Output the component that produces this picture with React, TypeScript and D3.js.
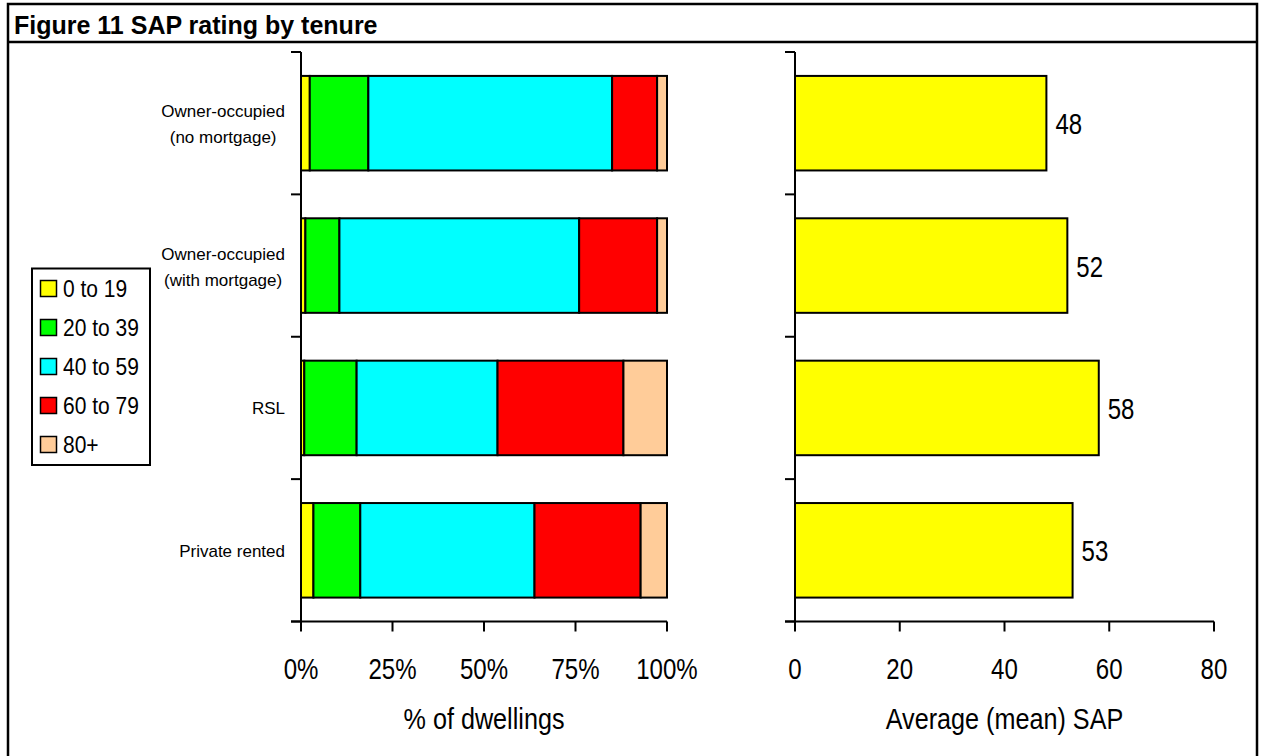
import React from "react";
import * as d3 from "d3";

// Tenure categories (label lines per category)
const categories = ["ooNoMortgage", "ooMortgage", "rsl", "privateRented"];
const categoryLines = [
  ["Owner-occupied", "(no mortgage)"],
  ["Owner-occupied", "(with mortgage)"],
  ["RSL"],
  ["Private rented"],
];

// SAP rating bands, % of dwellings in each tenure
const bandNames = ["0 to 19", "20 to 39", "40 to 59", "60 to 79", "80+"];
const bandColors = ["#FFFF00", "#00FF00", "#00FFFF", "#FF0000", "#FFCC99"];
const band0to19 = [2.4, 1.2, 0.9, 3.4];
const band20to39 = [16.0, 9.3, 14.3, 12.8];
const band40to59 = [66.6, 65.5, 38.5, 47.6];
const band60to79 = [12.3, 21.3, 34.4, 29.0];
const band80plus = [2.7, 2.7, 11.9, 7.2];

// Average (mean) SAP by tenure
const meanSap = [48, 52, 58, 53];

const pctTicks = [0, 25, 50, 75, 100];
const sapTicks = [0, 20, 40, 60, 80];

const FONT = "'Liberation Sans', Arial, Helvetica, sans-serif";

function T(props: {
  x: number;
  y: number;
  size: number;
  sx?: number;
  anchor?: string;
  weight?: string;
  children: React.ReactNode;
}) {
  const { x, y, size, sx = 1, anchor = "start", weight = "normal", children } = props;
  return (
    <text
      transform={`translate(${x},${y}) scale(${sx},1)`}
      fontSize={size}
      fontFamily={FONT}
      fontWeight={weight}
      textAnchor={anchor}
      fill="#000"
    >
      {children}
    </text>
  );
}

function measure(text: string, size: number): number {
  const c = document.createElement("canvas").getContext("2d");
  if (!c) return text.length * size * 0.5;
  c.font = `${size}px ${FONT}`;
  return c.measureText(text).width;
}

export default function App() {
  const W = 1261;
  const H = 756;

  const top = 52;
  const bottom = 621.5;

  const y = d3
    .scaleBand<string>()
    .domain(categories)
    .range([top, bottom])
    .paddingInner(0.336)
    .paddingOuter(0.168);

  const xPct = d3.scaleLinear().domain([0, 100]).range([301, 667]);
  const xSap = d3.scaleLinear().domain([0, 80]).range([795, 1214]);

  const rows = categories.map((c, i) => ({
    cat: c,
    b0: band0to19[i],
    b1: band20to39[i],
    b2: band40to59[i],
    b3: band60to79[i],
    b4: band80plus[i],
  }));
  const keys = ["b0", "b1", "b2", "b3", "b4"];
  const stacked = d3.stack<any>().keys(keys)(rows);

  const boundaries = categories.map((c) => y(c)! - (y.step() - y.bandwidth()) / 2);
  boundaries.push(bottom);

  const catSize = 17;
  const tickSize = 29;
  const tickSx = 0.83;

  return (
    <svg
      width={W}
      height={H}
      style={{ position: "absolute", left: 0, top: 0, background: "#fff" }}
    >
      <rect x={0} y={0} width={W} height={H} fill="#fff" />
      {/* frame and title */}
      <rect x={8} y={4} width={1249} height={H + 10} fill="none" stroke="#000" strokeWidth={2.5} />
      <line x1={8} x2={1257} y1={42} y2={42} stroke="#000" strokeWidth={2.5} />
      <T x={14} y={34} size={25} weight="bold">
        Figure 11 SAP rating by tenure
      </T>

      {/* left panel: stacked bars */}
      {stacked.map((layer, li) =>
        layer.map((d: any, i: number) => (
          <rect
            key={`${li}-${i}`}
            x={xPct(d[0])}
            y={y(categories[i])}
            width={Math.max(0, xPct(d[1]) - xPct(d[0]))}
            height={y.bandwidth()}
            fill={bandColors[li]}
            stroke="#000"
            strokeWidth={2}
          />
        ))
      )}

      {/* left axes */}
      <line x1={xPct(0)} x2={xPct(0)} y1={top} y2={bottom} stroke="#000" strokeWidth={2} />
      {boundaries.map((b, i) => (
        <line key={i} x1={xPct(0) - 10} x2={xPct(0)} y1={b} y2={b} stroke="#000" strokeWidth={2} />
      ))}
      <line x1={xPct(0) - 10} x2={xPct(100)} y1={bottom} y2={bottom} stroke="#000" strokeWidth={2} />
      {pctTicks.map((t) => (
        <g key={t}>
          <line x1={xPct(t)} x2={xPct(t)} y1={bottom} y2={bottom + 10} stroke="#000" strokeWidth={2} />
          <T x={xPct(t)} y={678.5} size={tickSize} sx={tickSx} anchor="middle">
            {`${t}%`}
          </T>
        </g>
      ))}
      <T x={(xPct(0) + xPct(100)) / 2} y={728.5} size={30} sx={0.84} anchor="middle">
        % of dwellings
      </T>

      {/* category labels */}
      {categoryLines.map((lines, i) => {
        const cy = y(categories[i])! + y.bandwidth() / 2;
        const right = xPct(0) - 16;
        if (lines.length === 1) {
          return (
            <T key={i} x={right} y={cy + 6.3} size={catSize} anchor="end">
              {lines[0]}
            </T>
          );
        }
        const maxW = Math.max(...lines.map((l) => measure(l, catSize)));
        const cx = right - maxW / 2;
        return (
          <g key={i}>
            <T x={cx} y={cy - 6} size={catSize} anchor="middle">
              {lines[0]}
            </T>
            <T x={cx} y={cy + 20} size={catSize} anchor="middle">
              {lines[1]}
            </T>
          </g>
        );
      })}

      {/* legend */}
      <rect x={32} y={268.5} width={118} height={196.5} fill="#fff" stroke="#000" strokeWidth={2} />
      {bandNames.map((n, i) => {
        const cy = 288.5 + i * 39;
        return (
          <g key={n}>
            <rect x={40.5} y={cy - 8} width={16} height={16} fill={bandColors[i]} stroke="#000" strokeWidth={1.5} />
            <T x={63} y={cy + 8.6} size={24} sx={0.875}>
              {n}
            </T>
          </g>
        );
      })}

      {/* right panel: mean SAP bars */}
      {meanSap.map((v, i) => (
        <g key={i}>
          <rect
            x={xSap(0)}
            y={y(categories[i])}
            width={xSap(v) - xSap(0)}
            height={y.bandwidth()}
            fill="#FFFF00"
            stroke="#000"
            strokeWidth={2}
          />
          <T x={xSap(v) + 9} y={y(categories[i])! + y.bandwidth() / 2 + 11} size={30} sx={0.8}>
            {String(v)}
          </T>
        </g>
      ))}
      <line x1={xSap(0)} x2={xSap(0)} y1={top} y2={bottom} stroke="#000" strokeWidth={2} />
      {boundaries.map((b, i) => (
        <line key={i} x1={xSap(0) - 10} x2={xSap(0)} y1={b} y2={b} stroke="#000" strokeWidth={2} />
      ))}
      <line x1={xSap(0) - 10} x2={xSap(80)} y1={bottom} y2={bottom} stroke="#000" strokeWidth={2} />
      {sapTicks.map((t) => (
        <g key={t}>
          <line x1={xSap(t)} x2={xSap(t)} y1={bottom} y2={bottom + 10} stroke="#000" strokeWidth={2} />
          <T x={xSap(t)} y={678.5} size={tickSize} sx={tickSx} anchor="middle">
            {String(t)}
          </T>
        </g>
      ))}
      <T x={(xSap(0) + xSap(80)) / 2} y={728.5} size={30} sx={0.84} anchor="middle">
        Average (mean) SAP
      </T>
    </svg>
  );
}
